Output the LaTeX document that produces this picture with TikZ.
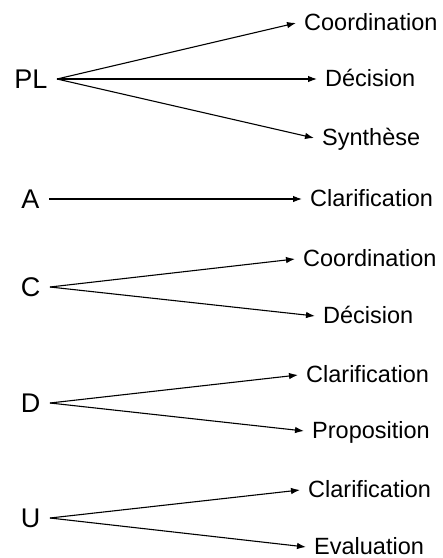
\documentclass[tikz,border=0pt]{standalone}
\usepackage{fontspec}
\setmainfont{Liberation Sans}
\usetikzlibrary{arrows.meta}
\begin{document}
\begin{tikzpicture}[x=1pt,y=-1pt,
  src/.style={anchor=east,inner xsep=9.5pt,inner ysep=0pt,text height=19pt,text depth=0pt,font=\fontsize{27}{30}\selectfont},
  tgt/.style={anchor=west,inner xsep=8pt,inner ysep=0pt,text height=14pt,text depth=0pt,font=\fontsize{23.5}{28}\selectfont},
  conn/.style={line width=1.1pt,-{Latex[length=9pt,width=6.5pt]}}]
\useasboundingbox (0,0) rectangle (443,558);

% sources
\node[src] (pl) at (57,79) {PL};
\node[src] (a) at (49,199) {A};
\node[src] (c) at (50,287) {C};
\node[src] (d) at (50,403) {D};
\node[src] (u) at (50,518) {U};

% targets
\node[tgt] (pl1) at (296,23) {Coordination};
\node[tgt] (pl2) at (317,79) {Décision};
\node[tgt] (pl3) at (314,138) {Synthèse};
\node[tgt] (a1) at (302,199) {Clarification};
\node[tgt] (c1) at (295,259) {Coordination};
\node[tgt] (c2) at (315,316) {Décision};
\node[tgt] (d1) at (298,375) {Clarification};
\node[tgt] (d2) at (304,431) {Proposition};
\node[tgt] (u1) at (300,490) {Clarification};
\node[tgt] (u2) at (306,547) {Evaluation};

% connectors
\draw[conn] (pl.east) -- (pl1.west);
\draw[conn] (pl.east) -- (pl2.west);
\draw[conn] (pl.east) -- (pl3.west);
\draw[conn] (a.east) -- (a1.west);
\draw[conn] (c.east) -- (c1.west);
\draw[conn] (c.east) -- (c2.west);
\draw[conn] (d.east) -- (d1.west);
\draw[conn] (d.east) -- (d2.west);
\draw[conn] (u.east) -- (u1.west);
\draw[conn] (u.east) -- (u2.west);
\end{tikzpicture}
\end{document}
